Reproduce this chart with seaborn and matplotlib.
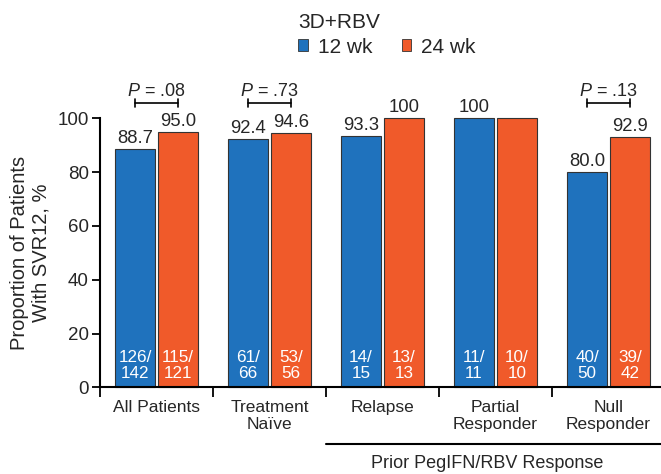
import matplotlib
matplotlib.use("Agg")
import matplotlib.pyplot as plt
import matplotlib.transforms as mtransforms
from matplotlib.patches import Patch
import seaborn as sns
import pandas as pd

categories = ["All Patients", "Treatment\nNaïve", "Relapse", "Partial\nResponder", "Null\nResponder"]
series = ["12 wk", "24 wk"]
svr_12wk = [88.7, 92.4, 93.3, 100, 80.0]
svr_24wk = [95.0, 94.6, 100, 100, 92.9]
label_12wk = ["88.7", "92.4", "93.3", "100", "80.0"]
label_24wk = ["95.0", "94.6", "100", "", "92.9"]
n_12wk = ["126/\n142", "61/\n66", "14/\n15", "11/\n11", "40/\n50"]
n_24wk = ["115/\n121", "53/\n56", "13/\n13", "10/\n10", "39/\n42"]
p_values = {0: ".08", 1: ".73", 4: ".13"}
yticks = [0, 20, 40, 60, 80, 100]

sns.set_style("ticks")
plt.rcParams["font.family"] = ["Liberation Sans", "DejaVu Sans"]
plt.rcParams["mathtext.fontset"] = "custom"
plt.rcParams["mathtext.rm"] = "Liberation Sans"
plt.rcParams["mathtext.it"] = "Liberation Sans:italic"

df = pd.DataFrame({
    "category": categories * 2,
    "regimen": [series[0]] * 5 + [series[1]] * 5,
    "value": svr_12wk + svr_24wk,
})

blue = "#1f72bd"
orange = "#f05a2a"
palette = {series[0]: blue, series[1]: orange}

fig = plt.figure(figsize=(6.61, 4.74), dpi=100)
ax = fig.add_axes([100 / 661, 1 - 387.3 / 474, 565 / 661, 268.9 / 474])

sns.barplot(data=df, x="category", y="value", hue="regimen", hue_order=series,
            order=categories, palette=palette, width=0.76, gap=0.07,
            edgecolor="#333333", linewidth=0.8, legend=False, ax=ax,
            saturation=1)

for p in ax.patches:
    p.set_clip_on(False)

ax.set_xlim(-0.5, 4.5)
ax.set_ylim(0, 100)
ax.set_yticks(yticks)
ax.set_yticklabels([str(t) for t in yticks], fontsize=13.5)
ax.tick_params(axis="y", length=6, width=1.3, pad=2, color="black")
ax.set_xlabel("")
ax.set_ylabel("Proportion of Patients\nWith SVR12, %", fontsize=14.5, labelpad=5)
ax.set_xticks(range(5))
ax.set_xticklabels(categories, fontsize=12.5, linespacing=1.2)
ax.tick_params(axis="x", which="major", length=0, pad=9)
ax.set_xticks([-0.5, 0.5, 1.5, 2.5, 3.5, 4.5], minor=True)
ax.tick_params(axis="x", which="minor", length=7, width=1.3, color="black")
sns.despine(ax=ax)
for s in ("left", "bottom"):
    ax.spines[s].set_linewidth(1.5)
    ax.spines[s].set_color("black")
ax.spines["left"].set_bounds(0, 100)

conts = ax.containers
ax.bar_label(conts[0], labels=label_12wk, padding=1.5, fontsize=13.3)
ax.bar_label(conts[1], labels=label_24wk, padding=1.5, fontsize=13.3)

for cont, labs in zip(conts, [n_12wk, n_24wk]):
    for p, lab in zip(cont.patches, labs):
        ax.text(p.get_x() + p.get_width() / 2, 2.2, lab, ha="center", va="bottom",
                color="white", fontsize=12.3, linespacing=1.12)

# P-value brackets
for i, pv in p_values.items():
    b = conts[0].patches[i]
    o = conts[1].patches[i]
    x1 = b.get_x() + b.get_width() / 2
    x2 = o.get_x() + o.get_width() / 2
    yb = 105.7
    ax.plot([x1, x2], [yb, yb], color="black", lw=1.2, clip_on=False)
    ax.plot([x1, x1], [yb - 1.4, yb + 1.4], color="black", lw=1.2, clip_on=False)
    ax.plot([x2, x2], [yb - 1.4, yb + 1.4], color="black", lw=1.2, clip_on=False)
    ax.text((x1 + x2) / 2, 108.2, r"$\it{P}$" + " = " + pv, ha="center", va="baseline",
            fontsize=13, clip_on=False)

# Prior response grouping line
trans = mtransforms.blended_transform_factory(ax.transData, ax.transAxes)
ax.plot([1.5, 4.5], [-0.211, -0.211], color="black", lw=1.5, transform=trans, clip_on=False)
ax.text(2.93, -0.252, "Prior PegIFN/RBV Response", transform=trans, ha="center", va="top",
        fontsize=13)

# Legend
handles = [Patch(facecolor=blue, edgecolor="#333333", linewidth=0.6),
           Patch(facecolor=orange, edgecolor="#333333", linewidth=0.6)]
leg = fig.legend(handles, series, title="3D+RBV", loc="upper left",
                 bbox_to_anchor=(294 / 661, 1 - 9 / 474), ncol=2, frameon=False,
                 fontsize=15, title_fontsize=15, handlelength=0.45, handleheight=0.5,
                 handletextpad=0.5, columnspacing=1.4, borderaxespad=0, borderpad=0.2,
                 labelspacing=0.2)
leg._legend_box.align = "left"
leg._legend_box.sep = 4

fig.savefig("out.png", dpi=100)
